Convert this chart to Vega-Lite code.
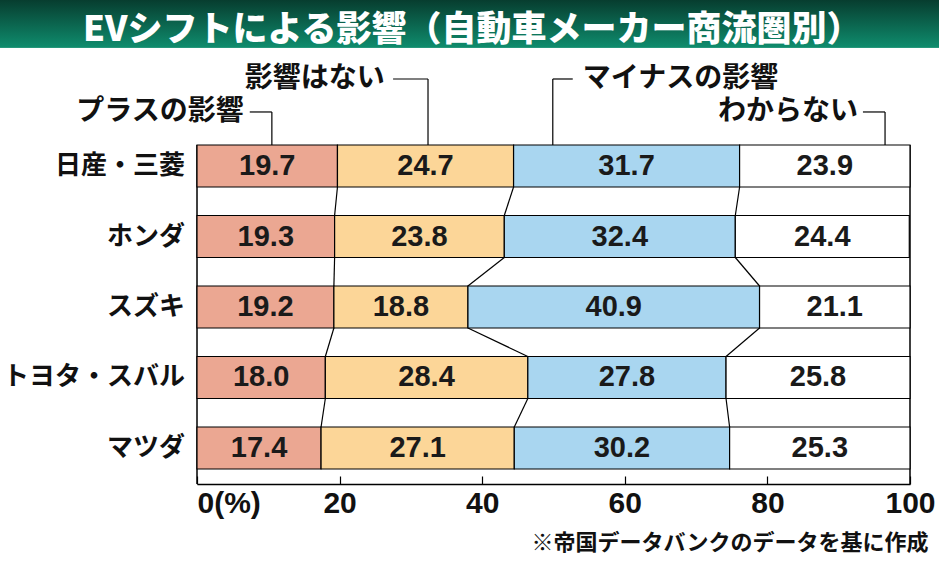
{
  "$schema": "https://vega.github.io/schema/vega-lite/v6.json",
  "width": 939,
  "height": 484,
  "autosize": {"type": "none"},
  "padding": {"left": 0, "top": 0, "right": 0, "bottom": 80},
  "background": "white",
  "config": {
    "view": {
      "stroke": null,
      "fill": {
        "gradient": "linear",
        "x1": 0, "y1": 0, "x2": 0, "y2": 1,
        "stops": [
          {"offset": 0, "color": "#073d2f"},
          {"offset": 0.098, "color": "#0f8c6d"},
          {"offset": 0.0995, "color": "#ffffff"},
          {"offset": 1, "color": "#ffffff"}
        ]
      }
    }
  },
  "datasets": {
    "shares": [
      {"maker": "日産・三菱", "mi": 1, "cat": "プラスの影響", "ci": 1, "value": 19.7},
      {"maker": "日産・三菱", "mi": 1, "cat": "影響はない", "ci": 2, "value": 24.7},
      {"maker": "日産・三菱", "mi": 1, "cat": "マイナスの影響", "ci": 3, "value": 31.7},
      {"maker": "日産・三菱", "mi": 1, "cat": "わからない", "ci": 4, "value": 23.9},
      {"maker": "ホンダ", "mi": 2, "cat": "プラスの影響", "ci": 1, "value": 19.3},
      {"maker": "ホンダ", "mi": 2, "cat": "影響はない", "ci": 2, "value": 23.8},
      {"maker": "ホンダ", "mi": 2, "cat": "マイナスの影響", "ci": 3, "value": 32.4},
      {"maker": "ホンダ", "mi": 2, "cat": "わからない", "ci": 4, "value": 24.4},
      {"maker": "スズキ", "mi": 3, "cat": "プラスの影響", "ci": 1, "value": 19.2},
      {"maker": "スズキ", "mi": 3, "cat": "影響はない", "ci": 2, "value": 18.8},
      {"maker": "スズキ", "mi": 3, "cat": "マイナスの影響", "ci": 3, "value": 40.9},
      {"maker": "スズキ", "mi": 3, "cat": "わからない", "ci": 4, "value": 21.1},
      {"maker": "トヨタ・スバル", "mi": 4, "cat": "プラスの影響", "ci": 1, "value": 18.0},
      {"maker": "トヨタ・スバル", "mi": 4, "cat": "影響はない", "ci": 2, "value": 28.4},
      {"maker": "トヨタ・スバル", "mi": 4, "cat": "マイナスの影響", "ci": 3, "value": 27.8},
      {"maker": "トヨタ・スバル", "mi": 4, "cat": "わからない", "ci": 4, "value": 25.8},
      {"maker": "マツダ", "mi": 5, "cat": "プラスの影響", "ci": 1, "value": 17.4},
      {"maker": "マツダ", "mi": 5, "cat": "影響はない", "ci": 2, "value": 27.1},
      {"maker": "マツダ", "mi": 5, "cat": "マイナスの影響", "ci": 3, "value": 30.2},
      {"maker": "マツダ", "mi": 5, "cat": "わからない", "ci": 4, "value": 25.3}
    ],
    "notes": [
      {"t": "影響はない", "lvl": 1, "tx": 16.5, "hx": 27.5, "vx": 32.4},
      {"t": "マイナスの影響", "lvl": 1, "tx": 67.8, "hx": 52.7, "vx": 49.9},
      {"t": "プラスの影響", "lvl": 2, "tx": -5.2, "hx": 7.4, "vx": 10.5},
      {"t": "わからない", "lvl": 2, "tx": 82.9, "hx": 93.4, "vx": 96.5}
    ],
    "heading": [
      {"t": "EVシフトによる影響（自動車メーカー商流圏別）"}
    ]
  },
  "data": {"name": "shares"},
  "layer": [
    {
      "data": {"name": "heading"},
      "mark": {
        "type": "text",
        "font": "Noto Sans CJK JP",
        "fontSize": 35,
        "fontWeight": 900,
        "color": "white",
        "align": "center",
        "baseline": "middle"
      },
      "encoding": {
        "x": {"datum": 38.6, "type": "quantitative", "axis": {"title": "※帝国データバンクのデータを基に作成"}},
        "y": {"datum": "日産・三菱", "type": "nominal", "bandPosition": -2.74, "axis": null},
        "text": {"field": "t"}
      }
    },
    {
      "data": {"values": [{}]},
      "mark": {"type": "rule", "color": "black", "strokeWidth": 1.5},
      "encoding": {
        "x": {"datum": 0, "type": "quantitative", "axis": {"title": "※帝国データバンクのデータを基に作成"}},
        "y": {"datum": "日産・三菱", "type": "nominal", "bandPosition": 0, "axis": null},
        "y2": {"value": "height"}
      }
    },
    {
      "data": {"values": [{}]},
      "mark": {"type": "rule", "color": "black", "strokeWidth": 1.5},
      "encoding": {
        "x": {"datum": 100, "type": "quantitative", "axis": {"title": "※帝国データバンクのデータを基に作成"}},
        "y": {"datum": "日産・三菱", "type": "nominal", "bandPosition": 0, "axis": null},
        "y2": {"value": "height"}
      }
    },
    {
      "transform": [
        {"stack": "value", "groupby": ["maker"], "sort": [{"field": "ci"}], "as": ["x0", "x1"]},
        {"filter": "datum.ci < 4"},
        {"window": [{"op": "lead", "field": "x1", "as": "nx"}, {"op": "lead", "field": "maker", "as": "nm"}], "groupby": ["ci"], "sort": [{"field": "mi"}]},
        {"filter": "datum.nm != null"}
      ],
      "mark": {"type": "rule", "color": "black", "strokeWidth": 1.2},
      "encoding": {
        "x": {"field": "x1", "type": "quantitative", "axis": {"title": "※帝国データバンクのデータを基に作成"}},
        "x2": {"field": "nx"},
        "y": {"field": "maker", "type": "nominal", "bandPosition": 1, "axis": null},
        "y2": {"field": "nm", "bandPosition": 0}
      }
    },
    {
      "mark": {"type": "bar", "stroke": "black", "strokeWidth": 1.2},
      "encoding": {
        "x": {
          "field": "value",
          "type": "quantitative",
          "stack": "zero",
          "scale": {"domain": [0, 100], "range": [197, 910], "nice": false, "zero": false},
          "axis": {
            "values": [0, 20, 40, 60, 80, 100],
            "grid": false,
            "domainColor": "black",
            "domainWidth": 1.5,
            "tickColor": "black",
            "tickWidth": 1.2,
            "tickSize": -8,
            "labelExpr": "datum.value == 0 ? '0(%)' : datum.label",
            "labelFont": "Liberation Sans",
            "labelFontSize": 30,
            "labelFontWeight": "bold",
            "labelColor": "#111111",
            "labelPadding": 12,
            "labelFlush": false,
            "labelOverlap": false,
            "labelAlign": {"condition": {"test": "datum.value == 0", "value": "left"}, "value": "center"},
            "title": "※帝国データバンクのデータを基に作成",
            "titleFont": "Noto Sans CJK JP",
            "titleFontSize": 22,
            "titleFontWeight": "bold",
            "titleColor": "#111111",
            "titleAlign": "right",
            "titleBaseline": "middle",
            "titleX": 928,
            "titleY": 58
          }
        },
        "y": {
          "field": "maker",
          "type": "nominal",
          "scale": {
            "domain": ["日産・三菱", "ホンダ", "スズキ", "トヨタ・スバル", "マツダ"],
            "range": [145, 469],
            "paddingInner": 0.404,
            "paddingOuter": 0
          },
          "axis": null
        },
        "color": {
          "field": "cat",
          "type": "nominal",
          "scale": {
            "domain": ["プラスの影響", "影響はない", "マイナスの影響", "わからない"],
            "range": ["#eba792", "#fcd698", "#a9d6f0", "#ffffff"]
          },
          "legend": null
        },
        "order": {"field": "ci"}
      }
    },
    {
      "transform": [
        {"stack": "value", "groupby": ["maker"], "sort": [{"field": "ci"}], "as": ["x0", "x1"]},
        {"calculate": "(datum.x0 + datum.x1) / 2", "as": "xm"}
      ],
      "mark": {
        "type": "text",
        "font": "Liberation Sans",
        "fontSize": 29,
        "fontWeight": "bold",
        "color": "#1a1a1a",
        "baseline": "middle"
      },
      "encoding": {
        "x": {"field": "xm", "type": "quantitative", "axis": {"title": "※帝国データバンクのデータを基に作成"}},
        "y": {"field": "maker", "type": "nominal", "axis": null},
        "text": {"field": "value", "type": "quantitative", "format": ".1f"}
      }
    },
    {
      "transform": [{"filter": "datum.ci == 1"}],
      "mark": {
        "type": "text",
        "font": "Noto Sans CJK JP",
        "fontSize": 26,
        "fontWeight": "bold",
        "color": "#111111",
        "align": "right",
        "baseline": "middle",
        "dx": -12
      },
      "encoding": {
        "x": {"datum": 0, "type": "quantitative", "axis": {"title": "※帝国データバンクのデータを基に作成"}},
        "y": {"field": "maker", "type": "nominal", "axis": null},
        "text": {"field": "maker"}
      }
    },
    {
      "data": {"name": "notes"},
      "transform": [{"filter": "datum.lvl == 1"}],
      "mark": {
        "type": "text",
        "font": "Noto Sans CJK JP",
        "fontSize": 28,
        "fontWeight": "bold",
        "color": "#111111",
        "align": "center",
        "baseline": "middle"
      },
      "encoding": {
        "x": {"field": "tx", "type": "quantitative", "axis": {"title": "※帝国データバンクのデータを基に作成"}},
        "y": {"datum": "日産・三菱", "type": "nominal", "bandPosition": -1.571, "axis": null},
        "text": {"field": "t"}
      }
    },
    {
      "data": {"name": "notes"},
      "transform": [{"filter": "datum.lvl == 1"}],
      "mark": {"type": "rule", "color": "black", "strokeWidth": 1.2},
      "encoding": {
        "x": {"field": "hx", "type": "quantitative", "axis": {"title": "※帝国データバンクのデータを基に作成"}},
        "x2": {"field": "vx"},
        "y": {"datum": "日産・三菱", "type": "nominal", "bandPosition": -1.571, "axis": null}
      }
    },
    {
      "data": {"name": "notes"},
      "transform": [{"filter": "datum.lvl == 1"}],
      "mark": {"type": "rule", "color": "black", "strokeWidth": 1.2},
      "encoding": {
        "x": {"field": "vx", "type": "quantitative", "axis": {"title": "※帝国データバンクのデータを基に作成"}},
        "y": {"datum": "日産・三菱", "type": "nominal", "bandPosition": -1.571, "axis": null},
        "y2": {"datum": "日産・三菱", "bandPosition": 0}
      }
    },
    {
      "data": {"name": "notes"},
      "transform": [{"filter": "datum.lvl == 2"}],
      "mark": {
        "type": "text",
        "font": "Noto Sans CJK JP",
        "fontSize": 28,
        "fontWeight": "bold",
        "color": "#111111",
        "align": "center",
        "baseline": "middle"
      },
      "encoding": {
        "x": {"field": "tx", "type": "quantitative", "axis": {"title": "※帝国データバンクのデータを基に作成"}},
        "y": {"datum": "日産・三菱", "type": "nominal", "bandPosition": -0.786, "axis": null},
        "text": {"field": "t"}
      }
    },
    {
      "data": {"name": "notes"},
      "transform": [{"filter": "datum.lvl == 2"}],
      "mark": {"type": "rule", "color": "black", "strokeWidth": 1.2},
      "encoding": {
        "x": {"field": "hx", "type": "quantitative", "axis": {"title": "※帝国データバンクのデータを基に作成"}},
        "x2": {"field": "vx"},
        "y": {"datum": "日産・三菱", "type": "nominal", "bandPosition": -0.786, "axis": null}
      }
    },
    {
      "data": {"name": "notes"},
      "transform": [{"filter": "datum.lvl == 2"}],
      "mark": {"type": "rule", "color": "black", "strokeWidth": 1.2},
      "encoding": {
        "x": {"field": "vx", "type": "quantitative", "axis": {"title": "※帝国データバンクのデータを基に作成"}},
        "y": {"datum": "日産・三菱", "type": "nominal", "bandPosition": -0.786, "axis": null},
        "y2": {"datum": "日産・三菱", "bandPosition": 0}
      }
    }
  ]
}
